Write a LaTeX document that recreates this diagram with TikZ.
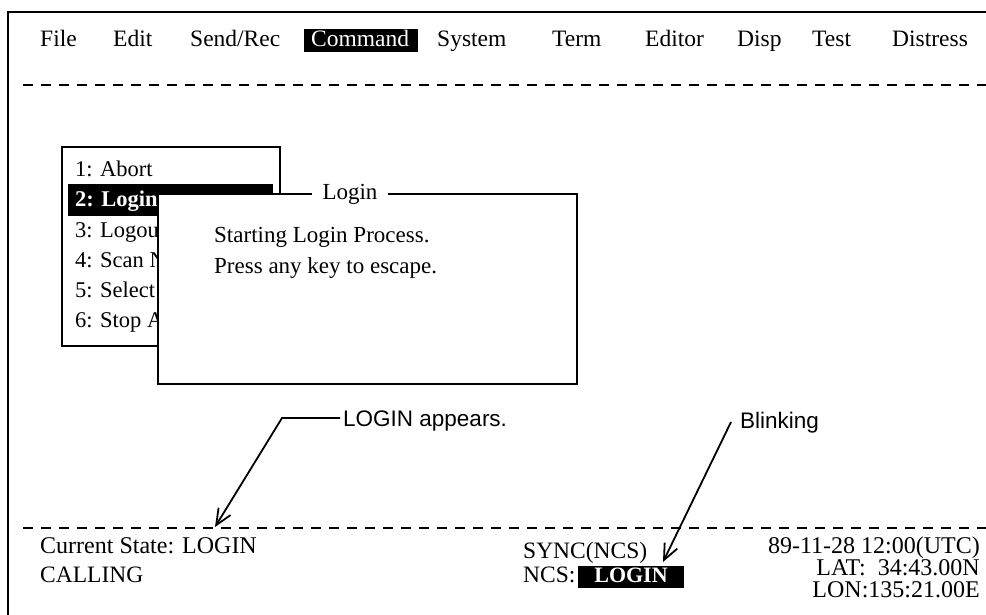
\documentclass[tikz,border=0pt]{standalone}
\usepackage{fontspec}
\setmainfont{Liberation Serif}
\newfontfamily\annotfont{Liberation Sans}
\usetikzlibrary{arrows.meta}

\tikzset{
  frameline/.style={line width=2.2pt, black},
  sepline/.style={line width=1.7pt, dash pattern=on 10pt off 8pt},
  scr/.style={inner sep=0pt, anchor=base west, font=\fontsize{23.5}{28}\selectfont},
  scrR/.style={inner sep=0pt, anchor=base east, font=\fontsize{24}{28}\selectfont},
  menuitem/.style={inner sep=0pt, anchor=base west, font=\fontsize{22.5}{27}\selectfont},
  note/.style={inner sep=0pt, anchor=base west, font=\annotfont\fontsize{22.5}{27}\selectfont},
  leader/.style={line width=1.8pt, -{Straight Barb[length=16pt,width=14pt,line width=1.8pt]}},
  winbox/.style={draw, line width=1.7pt, fill=white},
}

\begin{document}
\begin{tikzpicture}[x=1pt,y=-1pt]
\useasboundingbox (0,0) rectangle (986,615);

% screen frame (top and left edges)
\coordinate (fTL) at (8,12);
\coordinate (fTR) at (990,12);
\coordinate (fBL) at (8,620);
\draw[frameline] (fTR) -- (fTL) -- (fBL);

% menu bar
\fill[black] (304,29) rectangle (418,52);
\node[scr] (mFile) at (40,47) {File};
\node[scr] (mEdit) at (113,47) {Edit};
\node[scr] (mSend) at (190,47) {Send/Rec};
\node[scr, text=white] (mCmd) at (311,47) {Command};
\node[scr] (mSys) at (437,47) {System};
\node[scr] (mTerm) at (552,47) {Term};
\node[scr] (mEditor) at (645,47) {Editor};
\node[scr] (mDisp) at (737,47) {Disp};
\node[scr] (mTest) at (812,47) {Test};
\node[scr] (mDist) at (892,47) {Distress};

\coordinate (s1L) at (23,85);
\coordinate (s1R) at (986,85);
\draw[sepline] (s1L) -- (s1R);

% command pull-down menu
\draw[line width=1.7pt] (62,147) rectangle (280,346);
\fill[black] (68,184) rectangle (273,216);
\node[menuitem] (i1) at (75,177) {1: Abort};
\node[menuitem, text=white, font=\bfseries\fontsize{22.5}{27}\selectfont] (i2) at (75,207) {2: Login};
\node[menuitem] (i3) at (75,237) {3: Logout};
\node[menuitem] (i4) at (75,267) {4: Scan NCS};
\node[menuitem] (i5) at (75,297) {5: Select NCS};
\node[menuitem] (i6) at (75,327) {6: Stop Auto};

% login window
\draw[winbox] (158,194) rectangle (577,384);
\node[fill=white, inner xsep=11pt, inner ysep=2pt, font=\fontsize{23}{27}\selectfont] (wTitle) at (350,194) {Login};
\node[menuitem, font=\fontsize{23}{27}\selectfont] (w1) at (214,242) {Starting Login Process.};
\node[menuitem, font=\fontsize{23}{27}\selectfont] (w2) at (214,273) {Press any key to escape.};

% status area
\coordinate (s2L) at (23,528);
\coordinate (s2R) at (986,528);
\draw[sepline] (s2L) -- (s2R);

\node[scr, font=\fontsize{24}{28}\selectfont] (cur) at (40,553) {Current State: LOGIN};
\node[scr] (call) at (40,582) {CALLING};
\node[scr] (sync) at (523,558) {SYNC(NCS)};
\node[scr] (ncs) at (523,582) {NCS:};
\fill[black] (578,566) rectangle (684,588);
\node[text=white, inner sep=0pt, anchor=base,
      font=\bfseries\fontsize{22}{26}\selectfont] (blink) at (631,582) {LOGIN};
\node[scrR] (date) at (980,553) {89-11-28 12:00(UTC)};
\node[scrR] (lat) at (980,575) {LAT:\ \ 34:43.00N};
\node[scrR] (lon) at (980,597) {LON:135:21.00E};

% callouts
\node[note] (nLogin) at (343,426) {LOGIN appears.};
\coordinate (kLogin) at (282,418);
\coordinate (tLogin) at (215,527);
\draw[leader] (nLogin.west |- kLogin) ++(-3,0) -- (kLogin) -- (tLogin);

\node[note] (nBlink) at (740,428) {Blinking};
\coordinate (sBlink) at (731,422);
\coordinate (tBlink) at (663,562);
\draw[leader] (sBlink) -- (tBlink);
\end{tikzpicture}
\end{document}
